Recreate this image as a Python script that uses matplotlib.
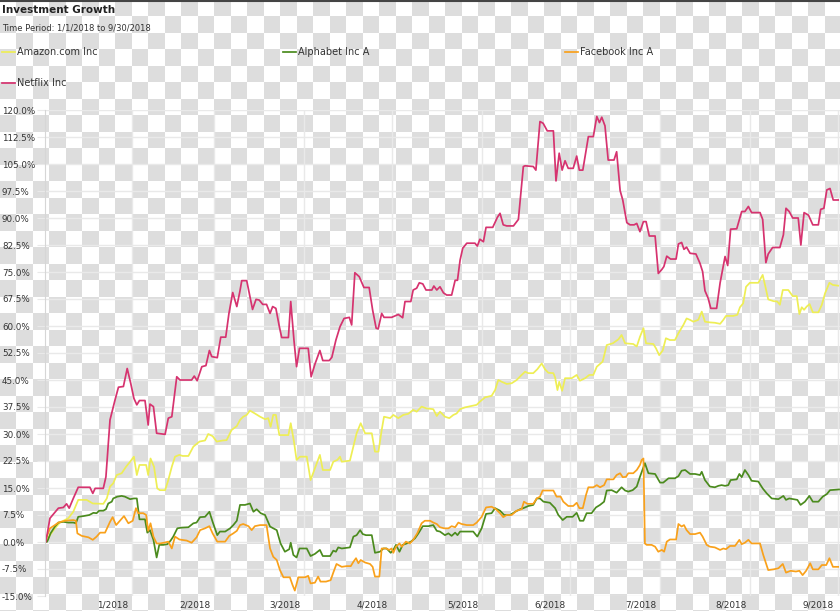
import numpy as np
import pandas as pd
import matplotlib
matplotlib.use("Agg")
import matplotlib.pyplot as plt
import matplotlib.dates as mdates
import matplotlib.transforms as mtransforms
from matplotlib.lines import Line2D

# (days after 1/1/2018, growth in %)
amzn = [(0.3, 0.1), (1.7, 1.9), (3.4, 3.8), (5.1, 5.4), (8.0, 6.6), (9.7, 8.4), (11.4, 11.7), (14.3, 11.7),
        (16.4, 10.7), (20.0, 10.6), (21.2, 12.1), (22.3, 15.4), (23.4, 16.3), (24.6, 18.6), (26.3, 19.1),
        (27.8, 20.9), (29.2, 22.3), (30.5, 23.7), (31.5, 18.6), (32.4, 21.4), (34.7, 21.4), (35.4, 18.6),
        (36.2, 23.2), (37.4, 20.9), (38.5, 14.9), (39.4, 14.4), (41.2, 14.4), (42.3, 17.2), (43.5, 20.9),
        (44.6, 23.7), (46.1, 24.2), (47.2, 23.9), (49.2, 23.9), (50.9, 26.5), (53.0, 27.9), (54.9, 28.2),
        (56.0, 30.0), (57.5, 29.4), (58.9, 27.9), (61.0, 28.2), (62.3, 28.3), (64.0, 31.1), (65.8, 32.2),
        (66.9, 33.9), (68.0, 34.8), (69.2, 35.3), (70.3, 36.5), (72.0, 35.7), (73.8, 34.8), (75.5, 34.1),
        (76.6, 34.4), (77.4, 32.0), (78.3, 35.3), (79.2, 35.3), (80.4, 29.7), (83.5, 29.7), (84.3, 33.0),
        (85.4, 27.9), (86.3, 22.8), (87.5, 23.7), (89.8, 23.7), (91.1, 17.2), (92.6, 20.5), (94.3, 24.2),
        (95.3, 20.0), (97.8, 20.0), (98.9, 22.3), (100.3, 22.8), (101.2, 23.7), (101.8, 22.3), (104.6, 22.6),
        (105.8, 26.5), (106.9, 30.2), (108.3, 33.0), (109.8, 30.2), (112.1, 30.2), (113.2, 25.1), (114.4, 25.1),
        (115.5, 31.1), (116.3, 34.8), (118.4, 34.4), (119.5, 35.3), (121.2, 34.4), (122.9, 35.3), (124.6, 35.6),
        (126.3, 36.7), (127.5, 36.2), (129.2, 37.6), (130.9, 37.1), (133.2, 36.9), (134.4, 35.0), (135.5, 36.2),
        (137.2, 34.8), (138.7, 34.4), (140.1, 35.3), (141.2, 35.7), (142.4, 36.9), (144.1, 37.4), (146.4, 37.8),
        (148.1, 38.1), (149.2, 39.0), (151.0, 40.2), (153.2, 40.6), (154.4, 42.2), (155.5, 45.0), (156.7, 44.5),
        (158.4, 43.9), (160.1, 44.1), (161.8, 45.0), (163.5, 46.4), (164.7, 47.3), (165.8, 46.9), (167.5, 46.9),
        (168.9, 48.0), (170.4, 49.6), (171.5, 48.0), (172.7, 47.0), (174.4, 46.9), (175.0, 45.7), (175.8, 42.2),
        (176.4, 44.5), (177.4, 42.0), (178.4, 45.5), (180.7, 45.5), (182.4, 46.4), (183.5, 44.8), (185.3, 45.5),
        (186.7, 46.4), (188.1, 46.4), (189.3, 48.7), (191.3, 50.1), (192.7, 54.7), (194.8, 55.2), (196.7, 56.3),
        (197.8, 57.5), (199.0, 55.2), (201.8, 55.0), (203.0, 54.3), (204.1, 57.0), (205.3, 59.4), (206.2, 55.2),
        (208.7, 55.0), (209.6, 53.8), (210.7, 51.9), (211.9, 53.2), (213.0, 56.6), (214.4, 56.1), (216.1, 56.1),
        (217.3, 58.0), (219.0, 60.3), (220.1, 62.1), (221.3, 61.7), (222.4, 61.2), (224.1, 61.7), (225.3, 64.0),
        (226.4, 61.2), (228.1, 61.0), (229.8, 60.9), (231.6, 60.6), (232.7, 61.7), (233.6, 62.8), (236.1, 62.8),
        (237.5, 63.1), (238.4, 65.2), (239.5, 66.3), (240.5, 70.9), (241.8, 72.0), (244.7, 72.0), (246.2, 74.2),
        (247.0, 71.4), (248.1, 67.4), (249.9, 66.9), (251.2, 66.8), (252.1, 65.9), (253.1, 70.0), (255.0, 70.0),
        (256.5, 68.3), (257.9, 68.3), (258.8, 63.3), (259.6, 65.2), (260.4, 64.5), (261.3, 65.4), (262.3, 66.1),
        (263.4, 63.8), (265.3, 63.8), (266.5, 65.9), (267.6, 69.1), (269.1, 72.0), (270.3, 71.4), (272.1, 71.2)]

googl = [(0.0, 0.0), (0.8, 0.1), (1.9, 2.4), (3.4, 4.3), (4.6, 5.4), (6.3, 5.6), (8.0, 5.4), (9.7, 5.4),
         (10.6, 5.2), (11.4, 7.0), (13.2, 7.2), (15.2, 7.5), (16.6, 8.1), (17.7, 8.0), (18.6, 8.7), (20.0, 8.7),
         (20.9, 9.1), (21.7, 10.7), (22.9, 11.2), (23.4, 12.1), (24.8, 12.6), (26.3, 12.8), (27.4, 12.6),
         (29.2, 11.9), (30.5, 12.1), (31.5, 12.1), (32.4, 6.3), (34.3, 6.3), (35.1, 2.6), (36.0, 3.3), (37.2, 0.6),
         (38.3, -4.3), (39.2, -0.8), (40.6, -0.8), (42.0, -0.6), (43.1, 0.4), (44.0, 1.5), (45.4, 3.8), (46.9, 4.0),
         (49.2, 4.1), (50.9, 5.2), (52.0, 5.4), (53.2, 6.9), (54.9, 7.0), (56.4, 8.4), (57.5, 5.6), (59.1, 1.9),
         (60.0, 2.9), (61.8, 2.9), (63.5, 3.8), (64.6, 4.7), (65.8, 5.9), (66.9, 10.3), (68.6, 10.3), (70.3, 10.7),
         (71.5, 8.4), (72.6, 9.1), (74.0, 8.0), (75.5, 7.5), (77.2, 4.3), (78.3, 3.8), (79.5, 3.3), (80.8, -0.4),
         (82.3, -2.7), (83.8, -2.0), (84.3, -0.2), (85.2, -3.6), (86.3, -4.3), (87.3, -1.8), (89.8, -1.8),
         (91.1, -3.9), (92.6, -3.3), (94.3, -2.2), (95.3, -3.9), (97.8, -3.9), (98.9, -2.4), (99.8, -2.7),
         (100.6, -1.5), (101.8, -1.8), (104.6, -1.5), (105.8, 1.5), (106.9, 1.9), (108.1, 3.3), (109.0, 2.2),
         (110.1, 1.9), (112.1, 1.9), (113.2, -3.0), (114.9, -2.7), (116.1, -1.8), (117.2, -1.8), (118.6, -3.0),
         (119.5, -2.2), (120.4, -0.8), (121.6, -2.7), (122.7, -0.8), (124.1, -0.4), (125.5, 0.1), (126.9, 1.0),
         (128.1, 2.4), (129.6, 4.4), (131.5, 4.4), (133.2, 4.7), (134.4, 3.1), (135.5, 2.9), (137.2, 1.9),
         (138.4, 2.4), (139.5, 1.7), (140.7, 2.6), (141.5, 1.9), (142.4, 2.9), (146.9, 2.9), (148.3, 1.5),
         (149.8, 3.8), (151.3, 7.8), (153.2, 8.0), (154.4, 9.4), (156.1, 8.7), (157.5, 7.5), (159.5, 7.5),
         (161.3, 8.4), (163.0, 9.1), (164.1, 9.4), (165.8, 10.0), (167.5, 10.3), (168.7, 12.1), (169.8, 12.1),
         (171.0, 11.2), (173.2, 10.9), (175.0, 9.4), (176.1, 7.5), (177.6, 6.1), (179.0, 7.0), (181.0, 7.0),
         (182.4, 8.1), (183.5, 5.9), (184.7, 5.9), (185.8, 8.0), (187.5, 8.0), (189.0, 9.6), (190.4, 10.3),
         (191.8, 11.2), (192.7, 14.3), (194.4, 14.4), (196.1, 13.7), (197.8, 15.2), (199.0, 14.3), (200.1, 14.0),
         (201.6, 14.4), (203.0, 15.4), (204.1, 18.1), (205.8, 21.9), (207.0, 19.1), (209.3, 18.9), (211.0, 16.5),
         (212.1, 16.5), (213.9, 17.7), (216.1, 17.7), (217.3, 18.3), (218.4, 19.8), (219.6, 20.0), (221.3, 18.9),
         (223.0, 18.9), (224.7, 18.6), (225.3, 19.5), (226.4, 17.2), (228.1, 15.4), (229.8, 15.2), (231.0, 15.6),
         (232.1, 15.8), (233.3, 15.6), (234.4, 15.8), (235.2, 17.2), (237.3, 17.4), (238.2, 18.9), (239.0, 18.0),
         (240.1, 20.0), (241.3, 18.6), (242.4, 17.0), (244.7, 16.8), (246.2, 14.9), (247.6, 13.5), (249.3, 12.1),
         (251.6, 11.9), (253.3, 12.8), (254.2, 11.7), (255.3, 12.1), (256.7, 11.9), (258.1, 11.7), (259.2, 10.3),
         (260.7, 11.2), (262.2, 12.8), (263.4, 11.2), (265.3, 11.2), (266.8, 12.6), (268.2, 13.3), (269.3, 14.4),
         (272.4, 14.6)]

fb = [(0.0, 0.1), (1.7, 3.8), (3.4, 4.7), (4.6, 5.4), (6.9, 5.9), (9.7, 6.1), (10.6, 5.9), (11.1, 2.4),
      (12.6, 1.7), (14.9, 1.3), (16.4, 0.6), (17.7, 1.5), (18.9, 2.6), (20.6, 2.6), (22.3, 5.6), (23.2, 6.9),
      (24.4, 4.7), (25.7, 5.9), (27.1, 7.2), (28.6, 5.2), (30.1, 5.9), (31.2, 9.4), (32.0, 8.0), (33.7, 8.0),
      (34.7, 7.5), (35.4, 3.1), (36.2, 5.2), (37.2, 1.5), (38.3, -0.4), (39.4, -0.4), (40.8, -0.2), (42.3, 0.1),
      (43.5, -1.8), (44.6, 1.5), (46.1, 0.7), (48.6, 0.4), (50.3, -0.2), (52.0, 1.3), (53.2, 3.3), (54.9, 3.8),
      (56.4, 4.4), (57.5, 2.4), (59.1, 0.1), (61.8, 0.1), (63.2, 1.7), (64.6, 2.4), (65.8, 3.1), (66.9, 4.7),
      (68.0, 5.0), (69.8, 4.4), (70.9, 3.3), (72.0, 4.4), (73.8, 4.7), (76.0, 4.7), (77.2, -1.8), (78.3, -4.1),
      (79.5, -5.0), (80.6, -7.8), (81.8, -9.8), (84.0, -9.8), (84.9, -11.9), (85.7, -13.5), (86.9, -9.8),
      (89.2, -9.8), (90.3, -9.4), (91.1, -11.5), (92.6, -11.3), (93.7, -9.6), (94.5, -11.0), (96.4, -11.0),
      (98.0, -10.6), (98.9, -8.5), (100.0, -6.1), (101.8, -6.9), (103.5, -6.7), (104.9, -6.7), (105.8, -5.5),
      (106.7, -4.5), (107.5, -5.9), (108.3, -5.0), (109.8, -5.7), (111.5, -6.1), (112.4, -6.9), (113.2, -9.6),
      (114.7, -9.6), (115.5, -1.8), (117.0, -1.8), (118.1, -2.2), (118.9, -1.8), (119.5, -3.0), (120.4, -1.3),
      (121.6, -0.4), (122.4, -1.3), (123.8, 0.1), (125.2, -0.4), (126.3, 0.6), (127.7, 2.4), (129.2, 5.2),
      (130.3, 5.9), (132.1, 5.9), (133.2, 5.4), (134.4, 5.0), (135.5, 4.1), (136.9, 3.8), (138.4, 3.8),
      (139.5, 4.4), (140.7, 4.1), (141.8, 5.4), (142.9, 5.0), (144.7, 4.7), (146.9, 4.7), (148.1, 5.4),
      (149.8, 7.0), (151.3, 9.6), (153.2, 9.8), (154.7, 9.1), (156.1, 8.0), (157.2, 6.9), (158.4, 7.5),
      (160.1, 7.5), (161.8, 8.7), (163.5, 9.1), (164.3, 11.2), (165.5, 10.6), (167.5, 10.6), (168.7, 12.1),
      (169.8, 12.6), (170.7, 14.3), (174.4, 14.3), (175.5, 12.6), (176.9, 12.6), (177.8, 11.2), (179.5, 10.0),
      (181.2, 10.0), (182.4, 10.9), (183.3, 9.4), (184.5, 9.4), (185.6, 13.1), (186.4, 15.2), (188.1, 15.2),
      (189.3, 15.8), (190.4, 15.2), (191.8, 15.8), (192.7, 17.4), (195.0, 17.4), (196.1, 18.6), (197.3, 19.1),
      (198.2, 18.0), (199.3, 18.1), (200.1, 19.1), (201.8, 19.1), (203.0, 20.0), (204.1, 21.4), (204.7, 22.8),
      (205.3, 23.2), (205.8, -0.4), (206.4, -0.8), (208.1, -0.8), (209.3, -1.3), (210.4, -2.7), (211.6, -2.2),
      (212.4, -2.7), (213.3, 0.1), (214.4, 0.7), (216.5, 0.7), (217.3, 5.0), (218.4, 4.3), (219.2, 4.7),
      (220.1, 3.3), (221.3, 2.2), (223.0, 2.2), (224.7, 2.6), (225.6, 1.5), (227.0, -0.8), (228.1, -1.3),
      (229.8, -1.5), (231.6, -2.2), (232.7, -1.8), (233.6, -2.0), (235.0, -1.1), (236.7, -1.1), (238.2, 0.6),
      (239.0, -0.6), (240.1, -0.2), (241.3, 0.6), (242.4, -0.4), (245.3, -0.4), (246.4, -3.6), (248.1, -7.8),
      (249.9, -7.6), (251.6, -7.3), (253.1, -6.1), (254.2, -8.5), (255.8, -8.0), (257.6, -8.2), (258.8, -8.0),
      (259.9, -9.2), (261.1, -8.0), (262.5, -5.9), (263.4, -7.6), (265.3, -7.6), (266.5, -6.4), (268.0, -6.4),
      (269.1, -4.5), (270.3, -6.9), (272.1, -6.9)]

nflx = [(0.3, 0.1), (1.7, 6.6), (4.6, 9.4), (6.3, 9.6), (7.4, 10.6), (8.3, 9.4), (9.7, 12.1), (11.4, 15.2),
        (15.4, 15.2), (16.4, 13.5), (17.2, 14.9), (20.0, 14.9), (20.9, 18.1), (22.3, 33.9), (24.0, 39.4),
        (25.2, 43.0), (26.9, 43.2), (28.2, 48.2), (29.4, 44.1), (30.5, 39.9), (31.5, 38.1), (32.4, 39.3),
        (34.3, 39.3), (35.4, 32.5), (36.0, 38.3), (37.2, 37.6), (38.3, 30.2), (41.2, 29.9), (42.3, 34.4),
        (43.5, 34.8), (45.2, 45.9), (46.3, 45.0), (50.3, 45.0), (51.2, 46.1), (52.2, 44.8), (53.8, 48.7),
        (55.2, 49.0), (56.4, 53.2), (57.2, 51.5), (59.1, 51.2), (60.3, 56.9), (62.0, 56.9), (63.1, 63.5),
        (64.4, 69.3), (65.8, 65.4), (66.9, 69.8), (67.5, 72.6), (69.2, 72.6), (71.2, 64.6), (72.4, 67.4),
        (73.5, 67.2), (74.7, 66.0), (76.0, 66.0), (77.2, 63.5), (78.1, 65.4), (79.2, 64.9), (80.4, 59.8),
        (81.2, 56.8), (83.5, 56.8), (84.3, 66.8), (85.4, 56.1), (86.3, 48.7), (87.3, 53.8), (90.3, 53.8),
        (91.3, 45.9), (92.6, 49.4), (94.3, 53.2), (95.3, 50.4), (97.5, 50.4), (98.4, 51.3), (99.8, 56.1),
        (101.2, 59.8), (102.6, 62.1), (104.4, 62.4), (105.2, 60.3), (106.3, 74.8), (107.8, 73.7), (109.4, 70.7),
        (111.2, 70.7), (112.4, 64.4), (113.6, 59.4), (114.3, 59.2), (115.5, 63.5), (116.3, 62.4), (118.9, 62.4),
        (121.2, 63.2), (122.7, 62.3), (123.5, 66.8), (125.5, 66.8), (126.3, 70.0), (127.5, 70.5), (128.4, 72.0),
        (129.6, 71.7), (130.7, 70.0), (132.7, 70.0), (133.4, 71.1), (134.4, 70.0), (135.5, 70.9), (136.7, 69.2),
        (137.8, 68.6), (139.5, 68.6), (140.7, 72.7), (141.5, 72.7), (142.4, 78.3), (143.3, 81.6), (144.7, 83.0),
        (147.5, 83.0), (148.3, 82.2), (149.2, 84.1), (150.4, 83.4), (151.3, 87.4), (153.6, 87.4), (155.2, 90.2),
        (156.1, 91.3), (157.2, 88.1), (158.4, 87.8), (160.7, 87.8), (162.4, 89.6), (164.1, 104.3), (164.7, 104.5),
        (167.5, 104.3), (168.4, 103.3), (169.8, 116.8), (170.9, 116.3), (172.3, 114.2), (174.4, 114.2),
        (175.3, 100.3), (176.4, 108.0), (177.4, 103.3), (178.4, 105.9), (179.5, 103.8), (181.2, 103.8),
        (182.4, 107.2), (183.3, 103.3), (184.5, 103.3), (186.4, 112.6), (188.1, 112.6), (189.3, 118.2),
        (190.2, 116.5), (191.0, 118.0), (192.1, 115.6), (193.2, 106.1), (195.2, 106.1), (196.1, 108.4),
        (197.3, 97.6), (198.2, 95.0), (199.6, 88.7), (200.7, 88.1), (202.1, 88.1), (203.0, 88.5), (204.1, 86.2),
        (205.3, 89.0), (206.2, 89.0), (207.3, 85.0), (209.3, 85.0), (210.4, 74.6), (211.6, 75.7), (212.3, 76.5),
        (213.3, 79.4), (214.6, 78.6), (216.5, 78.6), (217.3, 82.8), (218.4, 83.2), (219.2, 81.3), (220.1, 81.9),
        (221.3, 80.2), (223.3, 80.0), (224.7, 77.4), (225.6, 75.1), (226.4, 69.8), (227.5, 67.7), (228.4, 64.9),
        (230.4, 64.9), (231.6, 72.0), (233.3, 79.3), (234.2, 76.8), (235.2, 86.9), (237.3, 87.0), (239.0, 91.8),
        (240.1, 91.8), (241.3, 93.2), (242.4, 91.5), (245.3, 91.5), (246.2, 89.6), (247.3, 77.6), (248.1, 80.0),
        (249.6, 81.8), (252.1, 81.8), (253.3, 85.3), (254.2, 92.7), (255.3, 91.8), (256.5, 90.0), (258.4, 90.0),
        (259.3, 82.5), (260.4, 91.5), (261.9, 90.8), (263.4, 88.1), (265.3, 88.1), (266.1, 92.4), (267.2, 92.7),
        (268.2, 97.8), (269.3, 98.2), (270.4, 95.0), (272.1, 95.0)]

names = ["Amazon.com Inc", "Alphabet Inc A", "Facebook Inc A", "Netflix Inc"]
colors = ["#eeee55", "#4b8b1e", "#f9a11b", "#d6336f"]
month_ends = pd.date_range("2018-01-31", periods=9, freq="ME")
month_labels = ["1/2018", "2/2018", "3/2018", "4/2018", "5/2018", "6/2018", "7/2018", "8/2018", "9/2018"]
y_ticks = np.arange(-15, 120.1, 7.5)

W, H = 840, 611
fig = plt.figure(figsize=(W / 100, H / 100), dpi=100)

# transparent-background checkerboard
sq = 16.5
nx, ny = int(np.ceil(W / sq)), int(np.ceil(H / sq))
ii, jj = np.meshgrid(np.arange(nx), np.arange(ny))
board = np.where(((ii + jj) % 2)[..., None] == 1, 221, 255) * np.ones(3)
bg = fig.add_axes([0, 0, 1, 1], zorder=0)
bg.imshow(board.astype(np.uint8), extent=(0, nx * sq, ny * sq, 0), interpolation="nearest", aspect="auto")
bg.set_xlim(0, W)
bg.set_ylim(H, 0)
bg.axis("off")

ax = fig.add_axes([45 / W, 15 / H, 795 / W, 486 / H], zorder=1)
ax.set_facecolor("none")

x0 = mdates.date2num(np.datetime64("2018-01-01"))
lines = []
for data, name, c in zip([amzn, googl, fb, nflx], names, colors):
    d, v = np.array(data).T
    ln, = ax.plot(x0 + d, v, color=c, lw=1.25, label=name)
    lines.append(ln)

ax.set_xlim(x0, x0 + 795 / 2.915)
ax.set_ylim(-15, 120)
ax.set_yticks(y_ticks)
ax.set_yticklabels([f"{v:.1f}%" for v in y_ticks])
ax.set_xticks(mdates.date2num(month_ends))
ax.set_xticklabels(month_labels)
ax.grid(True, color="#e9e9e9", lw=1)
ax.set_axisbelow(True)
for s in ["top", "right", "bottom"]:
    ax.spines[s].set_visible(False)
ax.spines["left"].set_color("#d6d6d6")
ax.tick_params(axis="y", length=5.8, color="#e9e9e9", pad=25.2, labelsize=6.3, labelcolor="#333333")
ax.tick_params(axis="x", length=0, pad=3, labelsize=6.4, labelcolor="#333333")
plt.setp(ax.get_yticklabels(), ha="left")
shift = mtransforms.ScaledTranslation(-4 / 100, 0, fig.dpi_scale_trans)
for lab in ax.get_xticklabels():
    lab.set_ha("right")
    lab.set_transform(lab.get_transform() + shift)

fig.add_artist(Line2D([0, 1], [1 - 1 / H, 1 - 1 / H], transform=fig.transFigure, color="#444444", lw=1.5))
fig.text(2 / W, 1 - 10 / H, "Investment Growth", fontsize=7.5, weight="bold", va="center", color="#222222")
fig.text(2 / W, 1 - 28 / H, "Time Period: 1/1/2018 to 9/30/2018", fontsize=6, va="center", color="#333333")

spots = [(2, 52), (283, 52), (565, 52), (2, 83)]
for ln, (px, py) in zip(lines, spots):
    fig.legend([ln], [ln.get_label()], loc="center left", bbox_to_anchor=(px / W, 1 - py / H),
               frameon=False, fontsize=7, handlelength=1.3, handletextpad=0.25,
               borderpad=0, borderaxespad=0, labelcolor="#333333")

fig.savefig("out.png", dpi=100)
